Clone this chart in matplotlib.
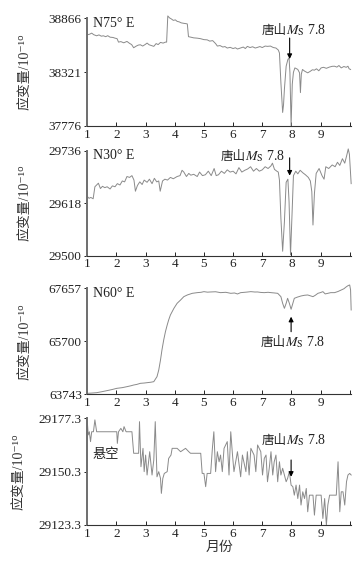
import numpy as np
import matplotlib
matplotlib.use("Agg")
import matplotlib.pyplot as plt
from matplotlib.offsetbox import TextArea, HPacker, AnnotationBbox

plt.rcParams['font.family'] = ['Liberation Serif', 'Noto Sans CJK SC', 'DejaVu Sans']
plt.rcParams['mathtext.fontset'] = 'stix'
plt.rcParams['axes.unicode_minus'] = False

# ---- data (month, strain 10^-10) ----
n75_month = [1.00, 1.08, 1.15, 1.22, 1.32, 1.40, 1.48, 1.55, 1.63, 1.70, 1.78, 1.88, 1.95, 2.02,
             2.07, 2.15, 2.25, 2.36, 2.45, 2.52, 2.59, 2.68, 2.75, 2.82, 2.90, 2.98, 3.05, 3.12,
             3.20, 3.28, 3.36, 3.43, 3.51, 3.60, 3.68, 3.72, 3.76, 3.82, 3.88, 3.95, 4.02, 4.08,
             4.15, 4.22, 4.31, 4.38, 4.43, 4.47, 4.55, 4.65, 4.77, 4.88, 5.00, 5.11, 5.20, 5.30,
             5.40, 5.46, 5.55, 5.65, 5.72, 5.80, 5.90, 6.00, 6.08, 6.15, 6.25, 6.35, 6.42, 6.49,
             6.58, 6.67, 6.76, 6.84, 6.92, 7.00, 7.10, 7.18, 7.28, 7.38, 7.47, 7.55, 7.59, 7.64,
             7.70, 7.73, 7.76, 7.82, 7.88, 7.92, 7.95, 7.99, 8.03, 8.07, 8.12, 8.18, 8.22, 8.28,
             8.31, 8.34, 8.38, 8.46, 8.56, 8.65, 8.72, 8.79, 8.86, 8.94, 9.02, 9.10, 9.20, 9.30,
             9.40, 9.48, 9.56, 9.63, 9.71, 9.80, 9.88, 9.94, 9.98, 10.03]
n75_value = [38699, 38705, 38716, 38700, 38689, 38698, 38685, 38689, 38680, 38690, 38675, 38672,
             38665, 38660, 38625, 38630, 38618, 38632, 38612, 38600, 38568, 38585, 38595, 38598,
             38585, 38600, 38615, 38598, 38590, 38582, 38610, 38600, 38622, 38615, 38625, 38625,
             38890, 38870, 38860, 38845, 38850, 38835, 38830, 38820, 38815, 38812, 38809, 38680,
             38675, 38668, 38665, 38660, 38650, 38648, 38635, 38640, 38610, 38585, 38590, 38575,
             38580, 38565, 38572, 38560, 38568, 38555, 38565, 38575, 38560, 38582, 38570, 38578,
             38565, 38572, 38580, 38570, 38585, 38582, 38585, 38570, 38565, 38545, 38515, 38214,
             37913, 37990, 38147, 38381, 38450, 38465, 38314, 37779, 38200, 38320, 38364, 38355,
             38348, 38314, 38114, 38300, 38348, 38330, 38314, 38330, 38345, 38341, 38355, 38335,
             38364, 38370, 38360, 38372, 38380, 38381, 38372, 38388, 38364, 38378, 38370, 38381,
             38355, 38348]

n30_month = [1.00, 1.06, 1.12, 1.20, 1.26, 1.32, 1.38, 1.45, 1.52, 1.60, 1.68, 1.78, 1.86, 1.95,
             2.03, 2.12, 2.20, 2.28, 2.36, 2.45, 2.53, 2.60, 2.65, 2.72, 2.80, 2.88, 2.95, 3.05,
             3.13, 3.22, 3.30, 3.38, 3.45, 3.50, 3.58, 3.66, 3.75, 3.85, 3.95, 4.08, 4.18, 4.25,
             4.31, 4.40, 4.48, 4.55, 4.65, 4.77, 4.85, 4.95, 5.05, 5.15, 5.25, 5.35, 5.42, 5.50,
             5.60, 5.70, 5.80, 5.90, 6.00, 6.10, 6.20, 6.30, 6.40, 6.50, 6.60, 6.70, 6.80, 6.90,
             7.00, 7.10, 7.20, 7.30, 7.35, 7.42, 7.50, 7.55, 7.59, 7.64, 7.70, 7.76, 7.82, 7.88,
             7.92, 7.97, 8.02, 8.07, 8.15, 8.22, 8.30, 8.40, 8.48, 8.58, 8.65, 8.70, 8.74, 8.79,
             8.85, 8.95, 9.05, 9.12, 9.18, 9.28, 9.40, 9.50, 9.58, 9.66, 9.75, 9.83, 9.90, 9.95,
             9.99, 10.05]
n30_value = [29633, 29629, 29631, 29628, 29655, 29659, 29663, 29651, 29656, 29653, 29655, 29650,
             29657, 29655, 29662, 29659, 29668, 29666, 29678, 29676, 29680, 29670, 29645, 29658,
             29666, 29660, 29670, 29665, 29672, 29662, 29674, 29666, 29668, 29645, 29668, 29672,
             29670, 29676, 29673, 29678, 29680, 29692, 29688, 29678, 29685, 29681, 29683, 29678,
             29688, 29680, 29682, 29690, 29680, 29696, 29680, 29682, 29690, 29685, 29693, 29688,
             29690, 29684, 29698, 29688, 29692, 29695, 29700, 29690, 29696, 29690, 29693, 29700,
             29696, 29702, 29708, 29694, 29690, 29688, 29670, 29584, 29510, 29576, 29665, 29672,
             29621, 29502, 29590, 29680, 29690, 29684, 29692, 29686, 29682, 29676, 29668, 29644,
             29569, 29640, 29685, 29696, 29680, 29672, 29700, 29696, 29704, 29700, 29710, 29703,
             29718, 29708, 29726, 29740, 29728, 29662]

n60_month = [1.00, 1.15, 1.32, 1.50, 1.67, 1.85, 2.01, 2.20, 2.36, 2.50, 2.59, 2.70, 2.82, 2.95,
             3.05, 3.18, 3.28, 3.33, 3.39, 3.45, 3.51, 3.56, 3.62, 3.68, 3.74, 3.79, 3.85, 3.97,
             4.08, 4.20, 4.31, 4.43, 4.60, 4.77, 4.90, 5.00, 5.12, 5.23, 5.40, 5.57, 5.75, 5.92,
             6.05, 6.15, 6.26, 6.45, 6.61, 6.75, 6.84, 6.95, 7.07, 7.20, 7.30, 7.42, 7.53, 7.64,
             7.70, 7.76, 7.82, 7.87, 7.93, 7.99, 8.05, 8.10, 8.20, 8.33, 8.45, 8.56, 8.65, 8.74,
             8.82, 8.91, 9.00, 9.08, 9.16, 9.25, 9.35, 9.48, 9.60, 9.71, 9.80, 9.89, 9.95, 10.00,
             10.03, 10.05]
n60_value = [63779, 63790, 63804, 63840, 63878, 63920, 63964, 63990, 64026, 64060, 64087, 64110,
             64149, 64160, 64173, 64190, 64210, 64296, 64395, 64641, 65010, 65380, 65749, 66057,
             66303, 66488, 66672, 66918, 67103, 67226, 67349, 67411, 67472, 67497, 67510, 67534,
             67515, 67522, 67530, 67497, 67510, 67472, 67485, 67448, 67497, 67515, 67534, 67520,
             67522, 67505, 67497, 67510, 67497, 67485, 67472, 67349, 67103, 66918, 67103, 67288,
             67103, 66882, 67103, 67288, 67330, 67374, 67400, 67411, 67380, 67349, 67400, 67472,
             67500, 67534, 67450, 67472, 67497, 67497, 67540, 67595, 67640, 67718, 67760, 67780,
             67595, 66857]

ew_month = [1.00, 1.03, 1.07, 1.11, 1.15, 1.21, 1.26, 1.32, 2.01, 2.03, 2.07, 2.15, 2.22, 2.26,
            2.33, 2.53, 2.59, 2.76, 2.79, 2.84, 2.91, 2.95, 3.00, 3.05, 3.14, 3.22, 3.28, 3.33,
            3.39, 3.45, 3.51, 3.54, 3.59, 3.64, 3.74, 3.79, 3.87, 3.91, 4.08, 4.20, 4.37, 4.48,
            4.54, 4.89, 4.94, 5.00, 5.06, 5.11, 5.23, 5.29, 5.34, 5.40, 5.46, 5.52, 5.57, 5.63,
            5.69, 5.80, 5.86, 5.92, 5.98, 6.03, 6.15, 6.26, 6.32, 6.44, 6.49, 6.55, 6.61, 6.72,
            6.78, 6.84, 6.95, 7.01, 7.07, 7.13, 7.18, 7.24, 7.30, 7.36, 7.41, 7.47, 7.53, 7.59,
            7.64, 7.70, 7.76, 7.82, 7.87, 7.93, 7.99, 8.05, 8.10, 8.16, 8.22, 8.28, 8.33, 8.39,
            8.45, 8.51, 8.56, 8.62, 8.74, 8.79, 8.85, 8.97, 9.02, 9.08, 9.14, 9.20, 9.25, 9.31,
            9.43, 9.54, 9.60, 9.66, 9.71, 9.77, 9.83, 9.89, 9.94, 10.00, 10.05]
ew_value = [29175.6, 29168.9, 29170.5, 29165.5, 29170.5, 29170.5, 29176.5, 29170.5, 29170.5,
            29164.6, 29170.5, 29172.2, 29170.5, 29173.1, 29170.5, 29170.5, 29159.6, 29159.6,
            29175.6, 29152.8, 29162.1, 29150.3, 29158.7, 29148.6, 29160.4, 29148.6, 29156.2,
            29175.6, 29147.7, 29150.3, 29146.9, 29139.3, 29146.9, 29149.4, 29150.3, 29157.0,
            29158.7, 29162.1, 29162.1, 29160.4, 29162.1, 29160.4, 29159.6, 29159.6, 29149.4,
            29149.4, 29142.7, 29149.4, 29149.4, 29162.1, 29170.5, 29150.3, 29160.4, 29155.3,
            29158.7, 29150.3, 29162.1, 29165.5, 29148.6, 29170.5, 29158.7, 29150.3, 29160.4,
            29147.7, 29158.7, 29150.3, 29160.4, 29148.6, 29162.1, 29158.7, 29150.3, 29163.8,
            29160.4, 29148.6, 29157.0, 29158.7, 29145.2, 29152.0, 29160.4, 29148.6, 29155.3,
            29158.7, 29145.2, 29155.3, 29148.6, 29152.0, 29148.6, 29145.2, 29146.9, 29150.3,
            29143.5, 29142.7, 29138.4, 29143.5, 29136.7, 29143.5, 29133.4, 29140.1, 29136.7,
            29141.8, 29130.0, 29138.4, 29138.4, 29128.3, 29138.4, 29138.4, 29138.4, 29126.6,
            29136.7, 29123.2, 29133.4, 29138.4, 29138.4, 29138.4, 29155.3, 29130.0, 29140.1,
            29140.1, 29133.4, 29145.2, 29148.6, 29149.4, 29148.6]

panel_names = ["N75° E", "N30° E", "N60° E", None]
y_ticks = [[37776, 38321, 38866], [29500, 29618, 29736],
           [63743, 65700, 67657], [29123.3, 29150.3, 29177.3]]
y_ticklabels = [["37776", "38321", "38866"], ["29500", "29618", "29736"],
                ["63743", "65700", "67657"], ["29123.3", "29150.3", "29177.3"]]
month_ticks = [1, 2, 3, 4, 5, 6, 7, 8, 9, 10]
month_labels = ["1", "2", "3", "4", "5", "6", "7", "8", "9", ""]

line_color = "#8a8a8a"
text_color = "#222222"


def quake_label(ax, x, y):
    # "唐山" in CJK font, then M_S 7.8 as mathtext (stix)
    cn = TextArea("唐山", textprops=dict(fontsize=9, color=text_color,
                                         family=['Noto Sans CJK SC']))
    ms = TextArea(r"$M_\mathrm{S}$ 7.8", textprops=dict(fontsize=10, color=text_color))
    box = HPacker(children=[cn, ms], align="baseline", pad=0, sep=0)
    ab = AnnotationBbox(box, (x, y), xycoords='data', frameon=False,
                        box_alignment=(0.5, 0.5), pad=0)
    ax.add_artist(ab)


fig = plt.figure(figsize=(3.58, 5.63), dpi=100)
positions = [[0.2439, 0.7762, 0.737, 0.1913],
             [0.2439, 0.5458, 0.737, 0.1865],
             [0.2439, 0.2996, 0.737, 0.1883],
             [0.2439, 0.0675, 0.737, 0.1895]]
series = [(n75_month, n75_value), (n30_month, n30_value),
          (n60_month, n60_value), (ew_month, ew_value)]

axes = []
for i, (mx, vy) in enumerate(series):
    ax = fig.add_axes(positions[i])
    ax.plot(mx, vy, color=line_color, linewidth=0.7, clip_on=False)
    ax.set_xlim(1, 10.05)
    ax.set_ylim(y_ticks[i][0], y_ticks[i][-1])
    ax.set_yticks(y_ticks[i])
    ax.set_yticklabels(y_ticklabels[i])
    ax.set_xticks(month_ticks)
    ax.set_xticklabels(month_labels)
    for s in ['top', 'right']:
        ax.spines[s].set_visible(False)
    ax.spines['left'].set_color('#6e6e6e')
    ax.spines['left'].set_linewidth(1.4)
    ax.spines['bottom'].set_color('#333333')
    ax.spines['bottom'].set_linewidth(0.8)
    ax.tick_params(axis='x', direction='in', length=3, width=0.7, pad=2,
                   labelsize=9.5, colors=text_color)
    ax.tick_params(axis='y', direction='out', length=2.5, width=0.7, pad=1.5,
                   labelsize=9.5, colors=text_color)
    ax.set_ylabel("应变量/10⁻¹⁰", fontsize=10, color='#333333')
    if i == 3:
        ax.yaxis.set_label_coords(-0.235, 0.5)
    else:
        ax.yaxis.set_label_coords(-0.21, 0.5)
    if panel_names[i]:
        ax.text(0.022, 0.955, panel_names[i], transform=ax.transAxes,
                ha='left', va='center', fontsize=10, color=text_color)
    axes.append(ax)

arrow = dict(arrowstyle='-|>', color='black', lw=0.8, mutation_scale=7, shrinkA=0, shrinkB=0)

# N75 E
axes[0].annotate("", xy=(7.94, 38454), xytext=(7.94, 38666), arrowprops=arrow)
quake_label(axes[0], 8.09, 38750)
# N30 E
axes[1].annotate("", xy=(7.94, 29680), xytext=(7.94, 29720), arrowprops=arrow)
quake_label(axes[1], 6.68, 29725)
# N60 E
axes[2].annotate("", xy=(7.99, 66609), xytext=(7.99, 66056), arrowprops=arrow)
quake_label(axes[2], 8.05, 65686)
# EW
axes[3].annotate("", xy=(7.99, 29147.7), xytext=(7.99, 29156.2), arrowprops=arrow)
quake_label(axes[3], 8.09, 29166.3)
axes[3].text(1.17, 29158.7, "悬空", ha='left', va='center', fontsize=9.5, color=text_color)
axes[3].set_xlabel("月份", fontsize=10, color='#333333', labelpad=1)

fig.savefig("out.png", dpi=100)
